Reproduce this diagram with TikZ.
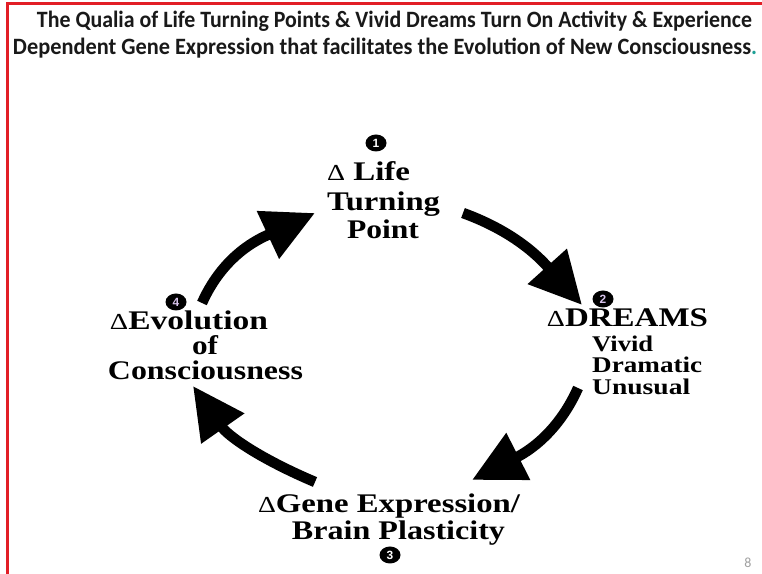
\documentclass[tikz,border=0pt]{standalone}
\usepackage{fontspec}
\setmainfont{Liberation Serif}
\setsansfont{Liberation Sans}
\newfontfamily\titlefont{Carlito}
\usetikzlibrary{arrows.meta,shapes.geometric}
\definecolor{borderred}{RGB}{226,30,38}
\definecolor{dotteal}{RGB}{30,160,150}
\definecolor{pagegray}{RGB}{160,160,160}
\definecolor{numlav}{RGB}{215,195,235}
\newcommand\fitw[2]{\resizebox{#1bp}{\height}{#2}}
\newcommand\dlt{{\mdseries\fontsize{23}{23}\selectfont Δ}}
\begin{document}
\begin{tikzpicture}[x=1bp,y=1bp,
  title/.style={inner sep=0pt, anchor=base, font=\titlefont\bfseries\fontsize{23.5}{26}\selectfont, text=black!90},
  lbl/.style={inner sep=0pt, anchor=base, font=\bfseries\fontsize{27}{29}\selectfont},
  sublbl/.style={inner sep=0pt, anchor=base west, font=\bfseries\fontsize{22.5}{24}\selectfont},
  bullet/.style={ellipse, fill=black, minimum width=21bp, minimum height=17bp, inner sep=0pt, text=white, font=\sffamily\bfseries\fontsize{12}{12}\selectfont},
  bigarrow/.style={line width=10.5bp, -{Triangle[length=52bp,width=50bp]}}]
\fill[white] (0,0) rectangle (762,574);
\useasboundingbox (0,0) rectangle (762,574);
% border
\draw[borderred, line width=3bp] (7.5,0) -- (7.5,570) -- (762,570);
% title
\node[title] (t1) at (394.5,546) {\fitw{715}{The Qualia of Life Turning Points \& Vivid Dreams Turn On Activity \& Experience}};
\node[title] (t2) at (385,519) {\fitw{744}{Dependent Gene Expression that facilitates the Evolution of New Consciousness\textcolor{dotteal}{.}}};
% label 1
\node[lbl] (l1a) at (368.5,393) {\fitw{83}{\dlt{} Life}};
\node[lbl] (l1b) at (383.5,363) {\fitw{113}{Turning}};
\node[lbl] (l1c) at (383,335) {\fitw{72}{Point}};
\node[bullet] (b1) at (376,431) {1};
% label 2
\node[lbl] (l2a) at (627.5,247) {\fitw{161}{\dlt DREAMS}};
\node[sublbl] (l2b) at (592,222) {\fitw{61}{Vivid}};
\node[sublbl] (l2c) at (592,201) {\fitw{110}{Dramatic}};
\node[sublbl] (l2d) at (592,179) {\fitw{98}{Unusual}};
\node[bullet, text=numlav] (b2) at (603,275) {2};
% label 3
\node[lbl] (l3a) at (389,61) {\fitw{262}{\dlt Gene Expression/}};
\node[lbl] (l3b) at (398.5,34) {\fitw{213}{Brain Plasticity}};
\node[bullet] (b3) at (390,19) {3};
% label 4
\node[lbl] (l4a) at (189,244) {\fitw{158}{\dlt Evolution}};
\node[lbl] (l4b) at (205,219) {\fitw{26}{of}};
\node[lbl] (l4c) at (205.5,194) {\fitw{195}{Consciousness}};
\node[bullet, text=numlav] (b4) at (176,272) {4};
% page number
\node[font=\titlefont\fontsize{14}{14}\selectfont, text=pagegray, inner sep=0pt] (pg) at (748,11) {8};
% arrows
\coordinate (a1s) at (202,271); \coordinate (a1e) at (315,361);
\draw[bigarrow] (a1s) to[out=66,in=205] (a1e);
\coordinate (a2s) at (463,361); \coordinate (a2e) at (582,269);
\draw[bigarrow] (a2s) to[out=-20,in=132] (a2e);
\coordinate (a3s) at (578,186); \coordinate (a3e) at (472,94);
\draw[bigarrow] (a3s) to[out=246,in=27] (a3e);
\coordinate (a4s) at (315,92); \coordinate (a4e) at (193,188);
\draw[bigarrow] (a4s) to[out=157,in=305] (a4e);
\end{tikzpicture}
\end{document}
